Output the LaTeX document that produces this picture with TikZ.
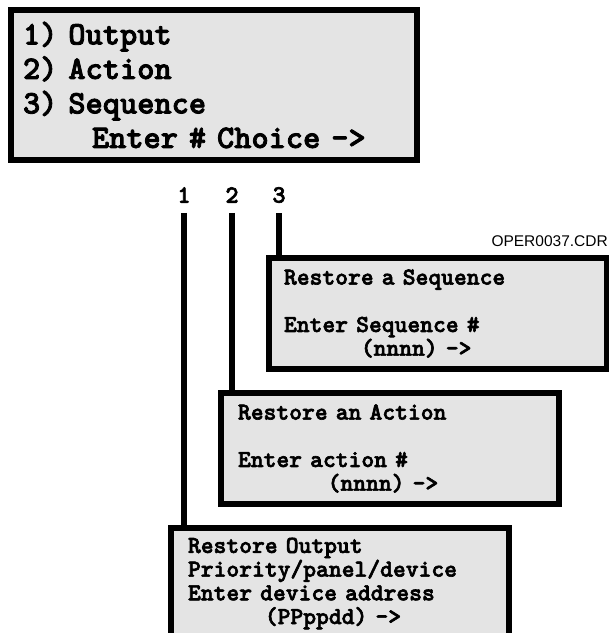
\documentclass[tikz,border=0pt]{standalone}
\usepackage{fontspec}
\setsansfont{Liberation Sans}
\newfontfamily\lcdfont{lmmonolt10-bold}[Extension=.otf, FakeBold=2.5]
\usetikzlibrary{positioning}
\definecolor{lcdgray}{RGB}{228,228,228}

\begin{document}
\begin{tikzpicture}[x=1pt, y=-1pt,
    screen/.style={draw=black, line width=6pt, fill=lcdgray, anchor=north west, align=left,
        minimum width=338pt, minimum height=111pt, inner xsep=17pt, text width=304pt,
        font=\lcdfont\fontsize{24.4}{23.7}\selectfont},
    key/.style={font=\lcdfont\fontsize{25}{25}\selectfont, inner sep=0pt},
    link/.style={line width=6pt, shorten <=10pt},
    ]
    \useasboundingbox (0,0) rectangle (609,633);
    % main menu
    \node[screen, minimum width=406pt, minimum height=150pt, inner xsep=12pt, text width=382pt,
        font=\lcdfont\fontsize{32.8}{34.5}\selectfont] (menu) at (8,7)
        {1) Output\\2) Action\\3) Sequence\\\hspace*{2.1em}Enter \# Choice ->};
    % choice keys
    \node[key] (n1) at (184,195) {1};
    \node[key] (n2) at (232,195) {2};
    \node[key] (n3) at (279,195) {3};
    \node[font=\sffamily\fontsize{15.5}{15.5}\selectfont, anchor=east, inner sep=0pt] (file) at (608,241) {OPER0037.CDR};
    % restore screens
    \node[screen, inner xsep=15pt, text width=308pt] (seqbox) at (266,255)
        {Restore a Sequence\\[23.7pt]Enter Sequence \#\\\hspace*{3.15em}(nnnn) ->};
    \node[screen] (actbox) at (218,390)
        {Restore an Action\\[23.7pt]Enter action \#\\\hspace*{3.675em}(nnnn) ->};
    \node[screen] (outbox) at (168,525)
        {Restore Output\\Priority/panel/device\\Enter device address\\\hspace*{3.15em}(PPppdd) ->};
    % links
    \draw[link] (n1.south) -- (n1.south |- outbox.north);
    \draw[link] (n2.south) -- (n2.south |- actbox.north);
    \draw[link] (n3.south) -- (n3.south |- seqbox.north);
\end{tikzpicture}
\end{document}
